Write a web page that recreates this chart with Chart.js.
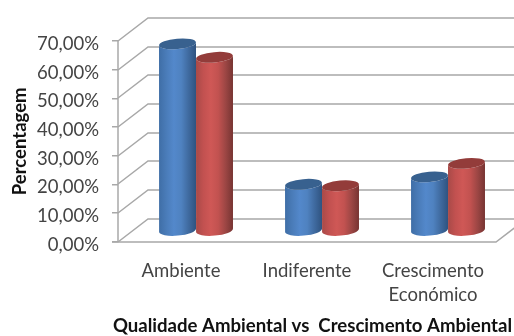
<!DOCTYPE html>
<html><head><meta charset="utf-8">
<style>html,body{margin:0;padding:0;background:#fff}canvas{display:block}</style>
<script src="https://cdn.jsdelivr.net/npm/chart.js@4/dist/chart.umd.js"></script>
</head><body><canvas id="c" width="514" height="336"></canvas>
<script>
const categories = [["Ambiente"], ["Indiferente"], ["Crescimento", "Económico"]];
const seriesBlue = [65, 16, 18.6];
const seriesRed = [60.3, 15.5, 23.3];
const yTicks = [0, 10, 20, 30, 40, 50, 60, 70];
const DX = 30, DY = 23, GRID = '#a8a8a8';

class CylinderBar extends Chart.BarElement {
  draw(ctx) {
    const {x, y, base, width} = this.getProps(['x', 'y', 'base', 'width'], false);
    const o = this.options, cx = x + DX / 2, rx = width / 2, ry = 5.2, rot = -0.09;
    const yt = y - DY / 2, yb = base - DY / 2 + 1, s = rx * Math.sin(rot);
    const g = ctx.createLinearGradient(cx - rx, 0, cx + rx, 0);
    const stops = o.stops.split(',');
    stops.forEach((c, i) => g.addColorStop(i / (stops.length - 1), c));
    ctx.save();
    ctx.fillStyle = g;
    ctx.beginPath();
    ctx.moveTo(cx + rx, yt + s);
    ctx.lineTo(cx + rx, yb + s);
    ctx.ellipse(cx, yb, rx, ry, rot, 0, Math.PI);
    ctx.lineTo(cx - rx, yt - s);
    ctx.ellipse(cx, yt, rx, ry, rot, Math.PI, 0, true);
    ctx.closePath();
    ctx.fill();
    ctx.fillStyle = o.capColor;
    ctx.beginPath();
    ctx.ellipse(cx, yt, rx, ry, rot, 0, Math.PI * 2);
    ctx.fill();
    ctx.restore();
  }
}
CylinderBar.id = 'cylinderBar';
CylinderBar.defaults = Object.assign({}, Chart.BarElement.defaults, {stops: '#000,#000', capColor: '#000'});
Chart.register(CylinderBar);
class CylinderController extends Chart.BarController {}
CylinderController.id = 'cylinder';
CylinderController.defaults = Object.assign({}, Chart.BarController.defaults, {dataElementType: 'cylinderBar'});
CylinderController.overrides = Chart.BarController.overrides;
Chart.register(CylinderController);

const walls = {
  id: 'walls',
  beforeDraw(chart) {
    chart.scales.y.getLabelItems().forEach(i => { i.options.translation[1] += 3; });
    const t = chart.titleBlock;
    t.left += 16; t.right += 16; t.top += 3; t.bottom += 3;
  },
  beforeDatasetsDraw(chart) {
    const {ctx, chartArea: a, scales: {y}} = chart;
    ctx.save();
    ctx.strokeStyle = GRID; ctx.lineWidth = 1.5;
    y.ticks.forEach(t => {
      const p = Math.round(y.getPixelForValue(t.value));
      ctx.beginPath();
      ctx.moveTo(a.left, p);
      ctx.lineTo(a.left + DX, p - DY);
      ctx.lineTo(chart.width + 20, p - DY);
      ctx.stroke();
    });
    const b = Math.round(y.getPixelForValue(0));
    ctx.beginPath();
    ctx.moveTo(a.left - 6, b);
    ctx.lineTo(a.right, b);
    ctx.lineTo(a.right + DX, b - DY);
    ctx.stroke();
    ctx.beginPath();
    ctx.moveTo(a.left, b);
    ctx.lineTo(a.left, Math.round(y.getPixelForValue(70)));
    ctx.stroke();
    ctx.restore();
  }
};

new Chart(document.getElementById('c'), {
  type: 'cylinder',
  plugins: [walls],
  data: {
    labels: categories,
    datasets: [
      {data: seriesBlue, clip: false, stops: '#3f6ea6,#4a7cb9,#5388cb,#4f82c0,#3f6a9f,#2f5380', capColor: '#38618f'},
      {data: seriesRed, clip: false, stops: '#a84a48,#c25150,#cf5856,#c25250,#9c4644,#773432', capColor: '#933c3a'}
    ]
  },
  options: {
    responsive: false, animation: false,
    layout: {padding: {left: 0, right: 18, top: 41, bottom: 0}},
    categoryPercentage: 0.587, barPercentage: 1,
    plugins: {
      legend: {display: false}, tooltip: {enabled: false},
      title: {display: true, position: 'bottom', align: 'end', text: 'Qualidade Ambiental vs  Crescimento Ambiental',
        color: '#111', font: {family: 'Lato', size: 18.6, weight: 'bold'}, padding: {top: 0, bottom: 2}, fullSize: true}
    },
    scales: {
      x: {
        grid: {display: false}, border: {display: false},
        ticks: {color: '#444', font: {family: 'Lato', size: 18.5, lineHeight: 1.3}, maxRotation: 0, minRotation: 0, padding: 9},
        afterFit(s) { s.height = 70; }
      },
      y: {
        min: 0, max: 70,
        afterBuildTicks(s) { s.ticks = yTicks.map(value => ({value})); },
        grid: {drawOnChartArea: false, drawTicks: true, tickLength: 6, color: GRID, lineWidth: 1.5},
        border: {display: false},
        ticks: {color: '#444', font: {family: 'Lato', size: 18.5}, padding: 13,
          callback: v => v.toFixed(2).replace('.', ',') + '%'},
        title: {display: true, text: 'Percentagem', color: '#111', font: {family: 'Lato', size: 18.5, weight: 'bold'}, padding: {top: 9, bottom: 0}},
        afterFit(s) { s.width = 118; }
      }
    }
  }
});
</script></body></html>
